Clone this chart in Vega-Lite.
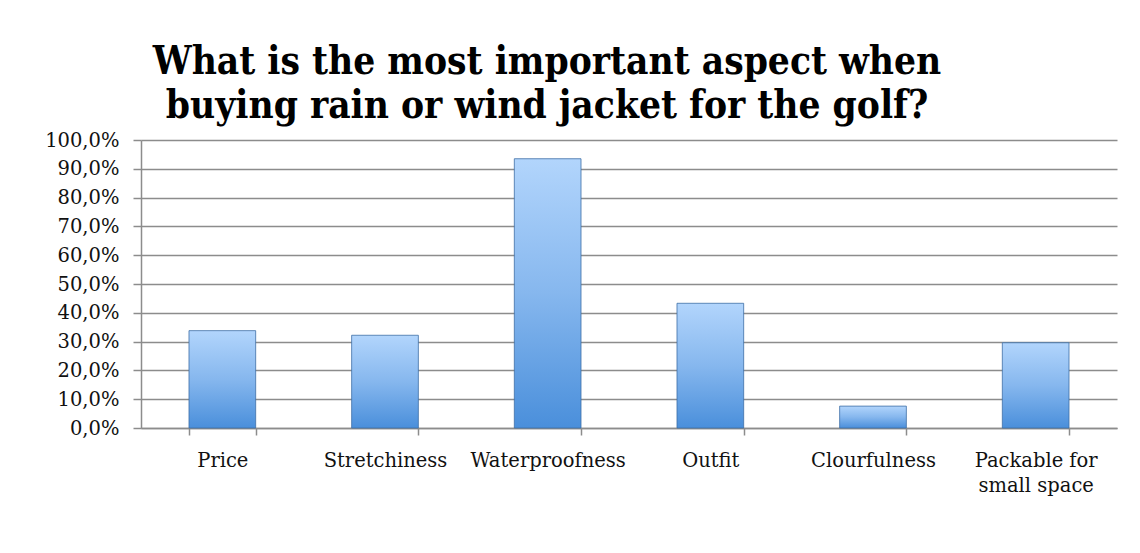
{
  "$schema": "https://vega.github.io/schema/vega-lite/v6.json",
  "autosize": {"type": "none"},
  "width": 976,
  "height": 288,
  "padding": {"left": 141, "top": 140, "right": 23, "bottom": 125},
  "background": "white",
  "title": {
    "text": ["What is the most important aspect when", "buying rain or wind jacket for the golf?"],
    "font": "DejaVu Serif Condensed",
    "fontSize": 38.5,
    "fontWeight": "bold",
    "color": "black",
    "lineHeight": 44,
    "anchor": "middle",
    "frame": "group",
    "dx": -82,
    "baseline": "alphabetic",
    "offset": -26
  },
  "data": {
    "values": [
      {"aspect": "Price", "share": 0.338},
      {"aspect": "Stretchiness", "share": 0.322},
      {"aspect": "Waterproofness", "share": 0.935},
      {"aspect": "Outfit", "share": 0.433},
      {"aspect": "Clourfulness", "share": 0.076},
      {"aspect": "Packable for small space", "share": 0.296}
    ]
  },
  "mark": {
    "type": "bar",
    "fill": {
      "gradient": "linear",
      "x1": 0, "y1": 0, "x2": 0, "y2": 1,
      "stops": [
        {"offset": 0, "color": "#b2d5fc"},
        {"offset": 0.5, "color": "#86b7ee"},
        {"offset": 1, "color": "#4a8fdb"}
      ]
    },
    "stroke": "#3d6ea6",
    "strokeWidth": 0.8
  },
  "encoding": {
    "x": {
      "field": "aspect",
      "type": "nominal",
      "sort": null,
      "scale": {"paddingInner": 0.59, "paddingOuter": 0.295},
      "axis": {
        "title": null,
        "labelAngle": 0,
        "labelFont": "DejaVu Serif",
        "labelFontSize": 19.5,
        "labelColor": "#111111",
        "labelPadding": 16,
        "labelLineHeight": 25,
        "labelExpr": "datum.value == 'Packable for small space' ? ['Packable for', 'small space'] : datum.value",
        "tickBand": "extent",
        "tickSize": 7,
        "tickWidth": 1.5,
        "tickColor": "#8c8c8c",
        "domainColor": "#8c8c8c",
        "domainWidth": 1.5,
        "grid": false
      }
    },
    "y": {
      "field": "share",
      "type": "quantitative",
      "scale": {"domain": [0, 1], "nice": false},
      "axis": {
        "title": null,
        "values": [0, 0.1, 0.2, 0.3, 0.4, 0.5, 0.6, 0.7, 0.8, 0.9, 1.0],
        "labelExpr": "replace(format(datum.value, '.1%'), '.', ',')",
        "labelFont": "DejaVu Serif",
        "labelFontSize": 19.5,
        "labelColor": "#111111",
        "labelPadding": 14,
        "tickSize": 8,
        "tickWidth": 1.5,
        "tickColor": "#8c8c8c",
        "domainColor": "#8c8c8c",
        "domainWidth": 1.5,
        "grid": true,
        "gridColor": "#8c8c8c",
        "gridWidth": 1.5
      }
    }
  },
  "config": {"view": {"stroke": null}}
}
